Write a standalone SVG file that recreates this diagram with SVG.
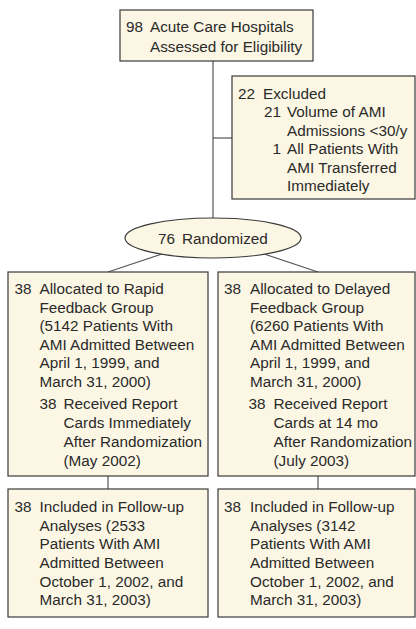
<svg xmlns="http://www.w3.org/2000/svg" width="416" height="629" viewBox="0 0 416 629">
<style>
.box{fill:#fcf7e4;stroke:#3a3a3a;stroke-width:1.2}
.ln{stroke:#555;stroke-width:1.2;fill:none}
text{font-family:"Liberation Sans",Arial,sans-serif;font-size:15.3px;fill:#2a2a2a}
.e{text-anchor:end}
</style>
<rect width="416" height="629" fill="#ffffff"/>
<g id="connectors">
<line class="ln" x1="213" y1="61" x2="213" y2="219"/>
<line class="ln" x1="213" y1="138" x2="232" y2="138"/>
<line class="ln" x1="162" y1="254" x2="108" y2="272"/>
<line class="ln" x1="264" y1="254" x2="318" y2="272"/>
<line class="ln" x1="108" y1="476" x2="108" y2="489"/>
<line class="ln" x1="318" y1="476" x2="318" y2="489"/>
</g>
<g id="assessed">
<rect class="box" x="120" y="10" width="193" height="51"/>
<text x="126" y="32">98</text>
<text x="150" y="32">Acute Care Hospitals</text>
<text x="150" y="51.5">Assessed for Eligibility</text>
</g>
<g id="excluded">
<rect class="box" x="232" y="76" width="183" height="123"/>
<text x="238" y="98.5">22</text>
<text x="263" y="98.5">Excluded</text>
<text class="e" x="281" y="117">21</text>
<text x="287" y="117">Volume of AMI</text>
<text x="287" y="135.5">Admissions &lt;30/y</text>
<text class="e" x="281" y="154">1</text>
<text x="287" y="154">All Patients With</text>
<text x="287" y="172.5">AMI Transferred</text>
<text x="287" y="191">Immediately</text>
</g>
<g id="randomized">
<ellipse class="box" cx="213" cy="238" rx="88" ry="20"/>
<text x="158" y="243.5">76</text>
<text x="182" y="243.5">Randomized</text>
</g>
<g id="rapid">
<rect class="box" x="8" y="272" width="200" height="204"/>
<text x="14.5" y="294">38</text>
<text x="39.5" y="294">Allocated to Rapid</text>
<text x="39.5" y="312.6">Feedback Group</text>
<text x="39.5" y="331.2">(5142 Patients With</text>
<text x="39.5" y="349.8">AMI Admitted Between</text>
<text x="39.5" y="368.4">April 1, 1999, and</text>
<text x="39.5" y="387">March 31, 2000)</text>
<text x="39.5" y="409">38</text>
<text x="63.5" y="409">Received Report</text>
<text x="63.5" y="428">Cards Immediately</text>
<text x="63.5" y="446.8">After Randomization</text>
<text x="63.5" y="465.5">(May 2002)</text>
</g>
<g id="delayed">
<rect class="box" x="218" y="272" width="197" height="204"/>
<text x="224" y="294">38</text>
<text x="250" y="294">Allocated to Delayed</text>
<text x="250" y="312.6">Feedback Group</text>
<text x="250" y="331.2">(6260 Patients With</text>
<text x="250" y="349.8">AMI Admitted Between</text>
<text x="250" y="368.4">April 1, 1999, and</text>
<text x="250" y="387">March 31, 2000)</text>
<text x="248.5" y="409">38</text>
<text x="273.5" y="409">Received Report</text>
<text x="273.5" y="428">Cards at 14 mo</text>
<text x="273.5" y="446.8">After Randomization</text>
<text x="273.5" y="465.5">(July 2003)</text>
</g>
<g id="rapid-followup">
<rect class="box" x="8" y="489" width="200" height="128"/>
<text x="14.5" y="512.2">38</text>
<text x="39.5" y="512.2">Included in Follow-up</text>
<text x="39.5" y="530.8">Analyses (2533</text>
<text x="39.5" y="549.4">Patients With AMI</text>
<text x="39.5" y="568">Admitted Between</text>
<text x="39.5" y="586.6">October 1, 2002, and</text>
<text x="39.5" y="605">March 31, 2003)</text>
</g>
<g id="delayed-followup">
<rect class="box" x="218" y="489" width="197" height="128"/>
<text x="224" y="512.2">38</text>
<text x="250" y="512.2">Included in Follow-up</text>
<text x="250" y="530.8">Analyses (3142</text>
<text x="250" y="549.4">Patients With AMI</text>
<text x="250" y="568">Admitted Between</text>
<text x="250" y="586.6">October 1, 2002, and</text>
<text x="250" y="605">March 31, 2003)</text>
</g>
</svg>
